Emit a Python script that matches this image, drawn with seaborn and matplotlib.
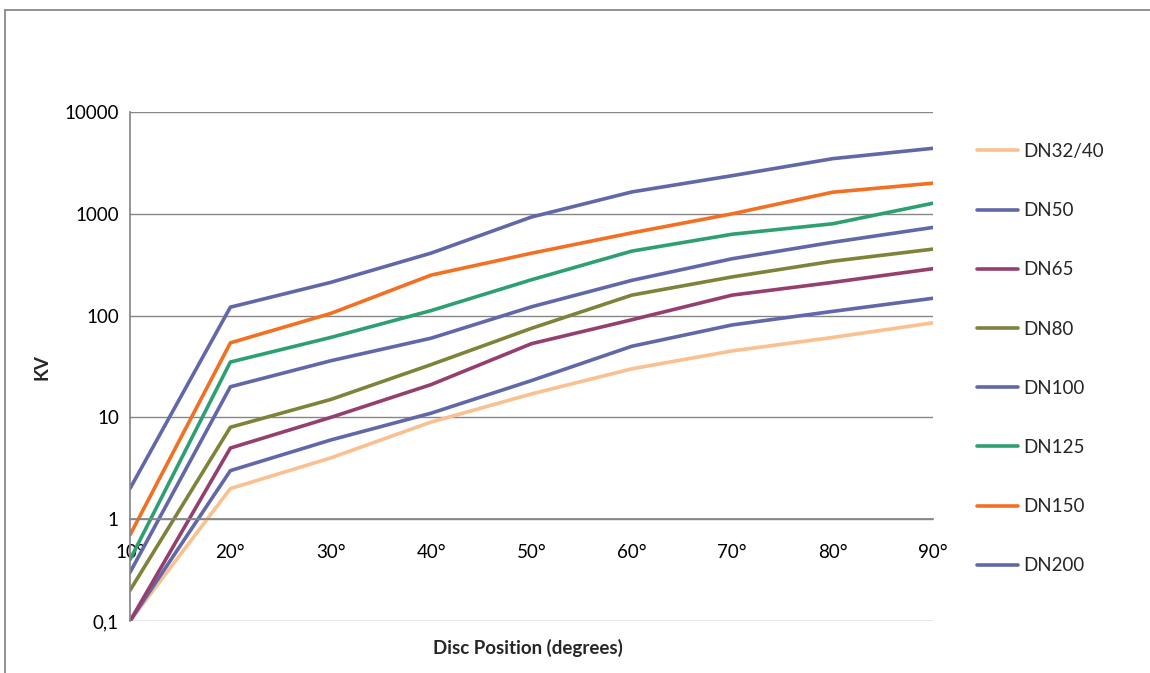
import matplotlib
matplotlib.use("Agg")
import matplotlib.pyplot as plt
import matplotlib.ticker as mticker
import numpy as np
import pandas as pd
import seaborn as sns
from matplotlib.lines import Line2D

# Положение диска (градусы) и подписи оси X
positions = [10, 20, 30, 40, 50, 60, 70, 80, 90]
position_labels = ["10°", "20°", "30°", "40°", "50°", "60°", "70°", "80°", "90°"]

# Значения KV для каждого типоразмера
dn32_40 = [0.1, 2, 4, 9, 17, 30, 45, 61, 85]
dn50 = [0.1, 3, 6, 11, 23, 50, 81, 110, 148]
dn65 = [0.1, 5, 10, 21, 53, 91, 159, 212, 289]
dn80 = [0.2, 8, 15, 33, 75, 159, 240, 342, 450]
dn100 = [0.3, 20, 36, 60, 122, 222, 362, 525, 735]
dn125 = [0.4, 35, 61, 112, 225, 430, 630, 798, 1270]
dn150 = [0.7, 54, 105, 250, 410, 650, 1000, 1630, 2000]
dn200 = [2, 121, 212, 411, 930, 1640, 2370, 3480, 4400]

series_names = ["DN32/40", "DN50", "DN65", "DN80", "DN100", "DN125", "DN150", "DN200"]
series_values = [dn32_40, dn50, dn65, dn80, dn100, dn125, dn150, dn200]
series_colors = ["#FAC08F", "#6167A8", "#953F6F", "#7D8338",
                 "#6167A8", "#2DA072", "#F36F21", "#6167A8"]

y_ticks = [0.1, 1, 10, 100, 1000, 10000]
y_tick_labels = ["0,1", "1", "10", "100", "1000", "10000"]

df = pd.DataFrame({
    "position": np.tile(positions, len(series_names)),
    "kv": np.concatenate(series_values),
    "series": np.repeat(series_names, len(positions)),
})

sns.set_theme(style="white")
plt.rcParams["font.family"] = ["Lato", "DejaVu Sans"]

W, H = 1150, 673
fig = plt.figure(figsize=(W / 100, H / 100), dpi=100)
ax = fig.add_axes([130 / W, 1 - 621 / H, (933 - 130) / W, (621 - 112) / H])

sns.lineplot(data=df, x="position", y="kv", hue="series", hue_order=series_names,
             palette=series_colors, linewidth=2.6, ax=ax, legend=True)

ax.set_yscale("log")
ax.set_ylim(0.1, 10000)
ax.set_xlim(10, 90)
ax.set_yticks(y_ticks)
ax.yaxis.set_major_formatter(mticker.FixedFormatter(y_tick_labels))
ax.yaxis.set_minor_locator(mticker.NullLocator())
ax.set_xticks(positions)
ax.set_xticklabels(position_labels)

grid_color = "#868686"
ax.grid(axis="y", color=grid_color, linewidth=1)
ax.grid(axis="x", visible=False)
ax.set_axisbelow(True)
for side in ["top", "right"]:
    ax.spines[side].set_visible(False)
ax.spines["left"].set_color(grid_color)
ax.spines["bottom"].set_color(grid_color)
ax.spines["bottom"].set_position(("data", 1))
ax.tick_params(axis="both", labelsize=13.5, colors="black")
ax.tick_params(axis="x", direction="out", length=4, width=1, color=grid_color, pad=14)
ax.tick_params(axis="y", direction="out", length=4, width=1, color=grid_color, pad=4)
ax.set_xlabel("")
ax.set_ylabel("")

fig.text(42 / W, 1 - 367 / H, "KV", rotation=90, ha="center", va="center",
         fontsize=13.5, fontweight="bold")
fig.text(528 / W, 1 - 648 / H, "Disc Position (degrees)", ha="center", va="center",
         fontsize=13.5, fontweight="bold")

handles, labels = ax.get_legend_handles_labels()
ax.get_legend().remove()
leg = fig.legend(handles, labels, loc="upper left", bbox_to_anchor=(977 / W, 1 - 143 / H),
                 frameon=False, fontsize=13.5, handlelength=2.2, handletextpad=0.25,
                 labelspacing=2.25, borderpad=0, borderaxespad=0)
for line in leg.get_lines():
    line.set_linewidth(2.6)

# рамка области диаграммы
fig.add_artist(Line2D([5 / W, 1], [1 - 10 / H, 1 - 10 / H], color="#7f7f7f", linewidth=1.2))
fig.add_artist(Line2D([5 / W, 5 / W], [0, 1 - 10 / H], color="#7f7f7f", linewidth=1.2))

fig.savefig("out.png", dpi=100)
